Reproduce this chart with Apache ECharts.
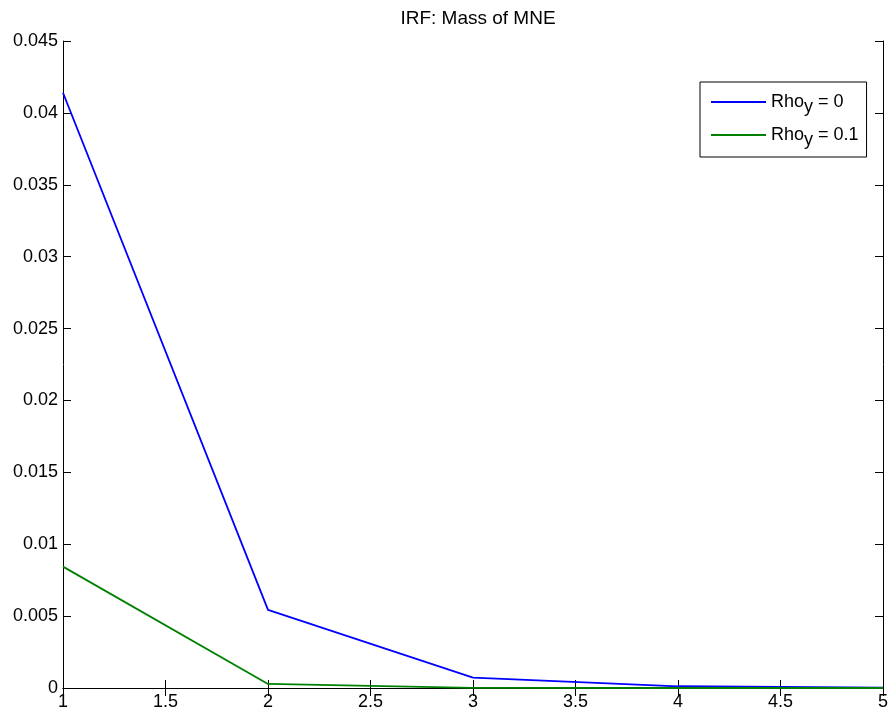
<!DOCTYPE html>
<html>
<head>
<meta charset="utf-8">
<script src="https://cdn.jsdelivr.net/npm/echarts@6/dist/echarts.min.js"></script>
<style>
  html, body { margin: 0; padding: 0; background: #fff; }
  #chart { width: 892px; height: 715px; }
</style>
</head>
<body>
<div id="chart"></div>
<script>
var periods = [1, 2, 3, 4, 5];
var rho0 = [0.0414, 0.00543, 0.00072, 0.00012, 0.00002];
var rho01 = [0.00844, 0.00028, 0.00001, 0.0, 0.0];
var seriesNames = ['Rho_y = 0', 'Rho_y = 0.1'];
var legendLabels = { 'Rho_y = 0': 'Rho{sub|y} = 0', 'Rho_y = 0.1': 'Rho{sub|y} = 0.1' };

function pairs(xs, ys) {
  return xs.map(function(x, i) { return [x, ys[i]]; });
}

var font = 'Liberation Sans, Arial, sans-serif';
var chart = echarts.init(document.getElementById('chart'), null, { renderer: 'canvas' });

var tickAxis = {
  axisLine: { show: true, lineStyle: { color: '#000', width: 1 } },
  axisTick: { show: true, inside: true, length: 8, lineStyle: { color: '#000' } },
  splitLine: { show: false }
};

chart.setOption({
  animation: false,
  backgroundColor: '#fff',
  title: {
    text: 'IRF: Mass of MNE',
    left: 473, top: 4, textAlign: 'center',
    textStyle: { fontFamily: font, fontSize: 19, fontWeight: 'normal', color: '#000' }
  },
  grid: { left: 63, right: 9, top: 41, bottom: 27 },
  legend: {
    data: seriesNames,
    left: 700, top: 82,
    orient: 'vertical',
    backgroundColor: '#fff',
    borderColor: '#000', borderWidth: 1, borderRadius: 0,
    padding: [6, 8, 8, 11],
    itemGap: 5,
    itemWidth: 55, itemHeight: 2,
    icon: 'rect',
    formatter: function(n) { return legendLabels[n]; },
    textStyle: {
      fontFamily: font, fontSize: 18, color: '#000', lineHeight: 20,
      rich: { sub: { fontFamily: font, fontSize: 18, color: '#000', lineHeight: 20, padding: [10, 0, 0, 0] } }
    }
  },
  xAxis: [
    Object.assign({
      type: 'value', min: 1, max: 5, interval: 0.5,
      axisLabel: { color: '#000', fontFamily: font, fontSize: 18, margin: 5 }
    }, tickAxis),
    Object.assign({
      type: 'value', min: 1, max: 5, interval: 0.5, position: 'top',
      axisLabel: { show: false }
    }, tickAxis)
  ],
  yAxis: [
    Object.assign({
      type: 'value', min: 0, max: 0.045, interval: 0.005,
      axisLabel: { color: '#000', fontFamily: font, fontSize: 18, margin: 5 }
    }, tickAxis),
    Object.assign({
      type: 'value', min: 0, max: 0.045, interval: 0.005, position: 'right',
      axisLabel: { show: false }
    }, tickAxis)
  ],
  series: [
    {
      name: seriesNames[0], type: 'line', data: pairs(periods, rho0),
      symbol: 'none', color: '#0000ff', lineStyle: { color: '#0000ff', width: 1.8 }
    },
    {
      name: seriesNames[1], type: 'line', data: pairs(periods, rho01),
      symbol: 'none', color: '#008000', lineStyle: { color: '#008000', width: 1.8 }
    }
  ]
});
</script>
</body>
</html>
